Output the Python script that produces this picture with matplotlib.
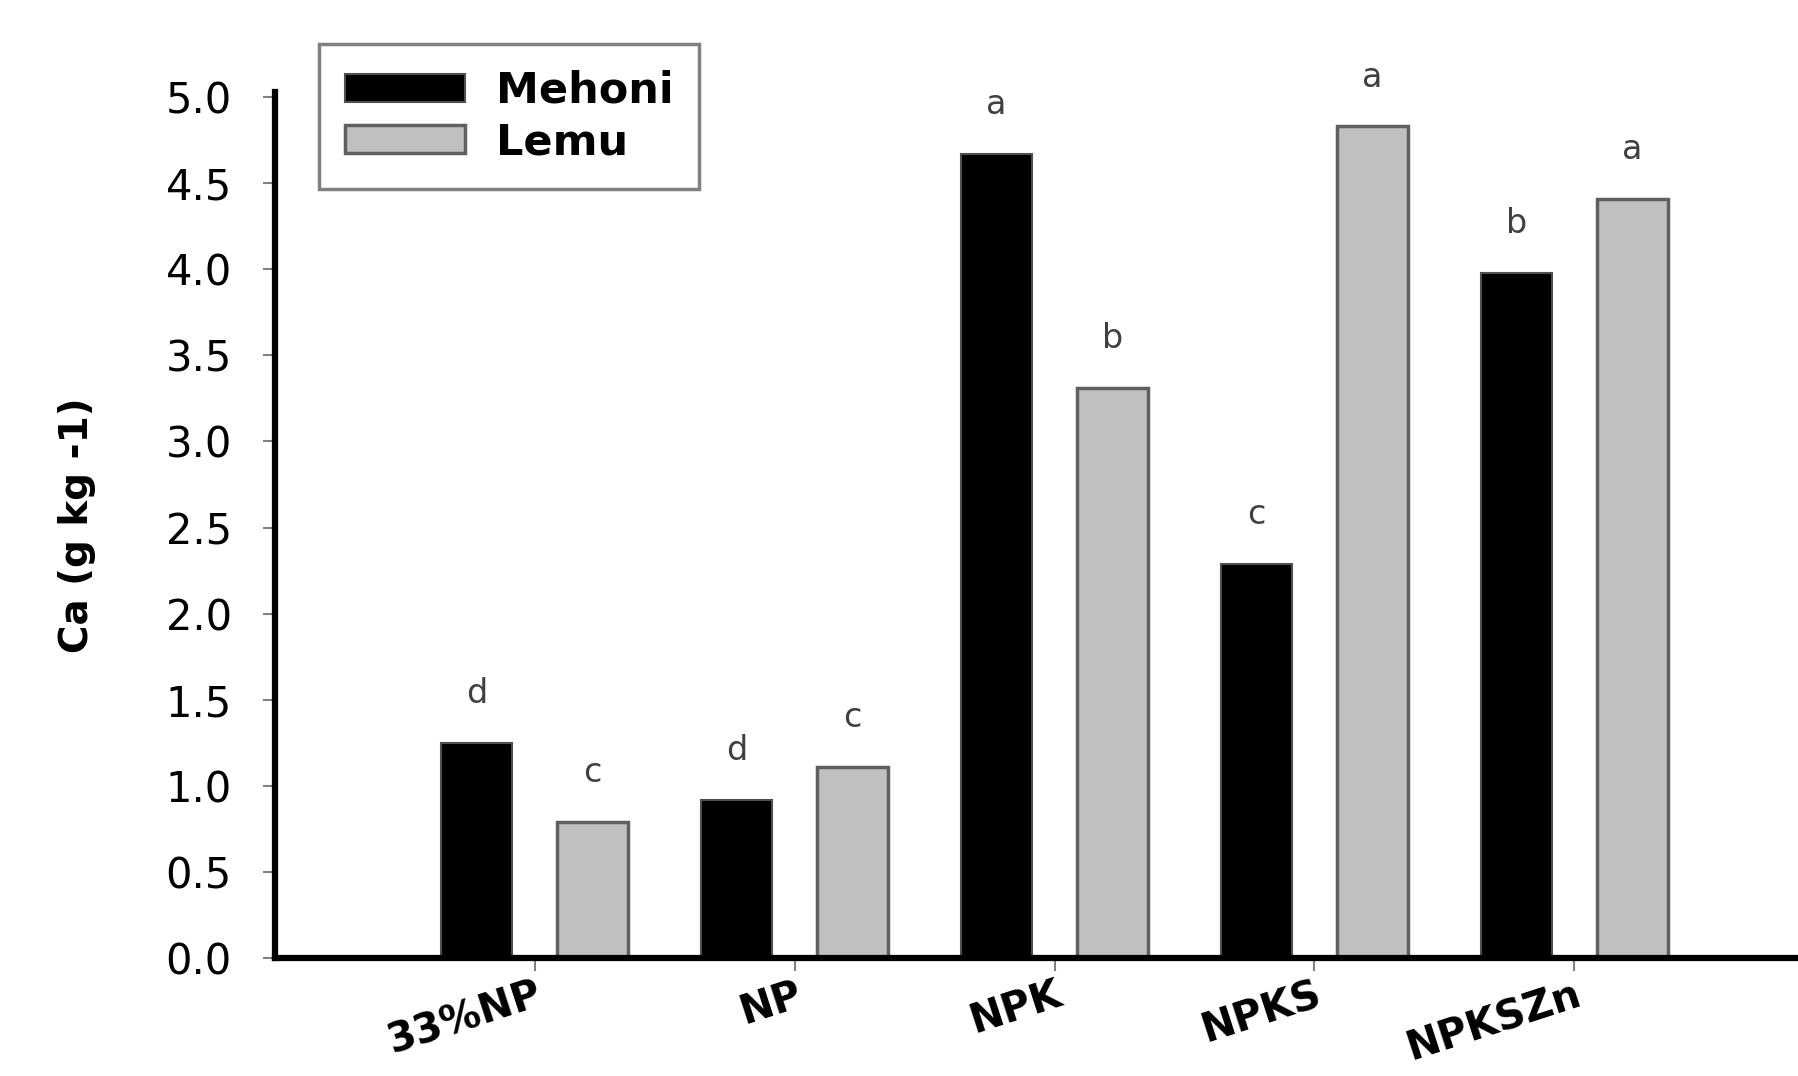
import matplotlib.pyplot as plt
import numpy as np

# data
treatments = ['33%NP', 'NP', 'NPK', 'NPKS', 'NPKSZn']
mehoni = [1.25, 0.92, 4.67, 2.29, 3.98]
lemu = [0.79, 1.11, 3.31, 4.83, 4.41]
mehoni_letters = ['d', 'd', 'a', 'c', 'b']
lemu_letters = ['c', 'c', 'b', 'a', 'a']

fig = plt.figure(figsize=(17.99, 10.76), dpi=100)
ax = fig.add_axes([275 / 1799, 0.1097, 1 - 275 / 1799, 0.9145 - 0.1097])

x = np.arange(len(treatments))
off = 0.223
w = 0.273

ax.bar(x - off, mehoni, width=w, color='black', edgecolor='#505050',
       linewidth=1.5, label='Mehoni', zorder=2)
ax.bar(x + off, lemu, width=w, color='#c0c0c0', edgecolor='#606060',
       linewidth=2.5, label='Lemu', zorder=2)

# significance letters
for i in range(len(treatments)):
    ax.text(x[i] - off, mehoni[i] + 0.19, mehoni_letters[i], ha='center',
            va='bottom', fontsize=24, color='#404040')
    ax.text(x[i] + off, lemu[i] + 0.19, lemu_letters[i], ha='center',
            va='bottom', fontsize=24, color='#404040')

ax.set_xlim(-1.0, 4.865)
ax.set_ylim(0, 5.03)
ax.set_yticks(np.arange(0, 5.01, 0.5))
ax.set_yticklabels(['%.1f' % v for v in np.arange(0, 5.01, 0.5)], fontsize=30)
ax.set_xticks(x)
ax.set_xticklabels(treatments, fontsize=29, fontweight='bold', rotation=18,
                   ha='right', va='top', rotation_mode='anchor')

ax.spines['top'].set_visible(False)
ax.spines['right'].set_visible(False)
ax.spines['left'].set_linewidth(4.5)
ax.spines['bottom'].set_linewidth(4.5)
ax.tick_params(axis='both', direction='out', color='#808080', width=1.5,
               length=9)
ax.tick_params(axis='y', pad=22)
ax.tick_params(axis='x', pad=3)

ax.set_ylabel('Ca (g kg -1)', fontsize=28, fontweight='bold', labelpad=50)

leg = fig.legend(loc='upper left', bbox_to_anchor=(319 / 1799, 1 - 44 / 1076),
                 prop={'size': 31, 'weight': 'bold'}, fancybox=False,
                 edgecolor='#808080', framealpha=1, borderpad=0.6,
                 handlelength=2.8, handleheight=0.62, handletextpad=0.7,
                 labelspacing=0.22, borderaxespad=0)
leg.get_frame().set_linewidth(2.5)

fig.savefig('out.png', dpi=100)
